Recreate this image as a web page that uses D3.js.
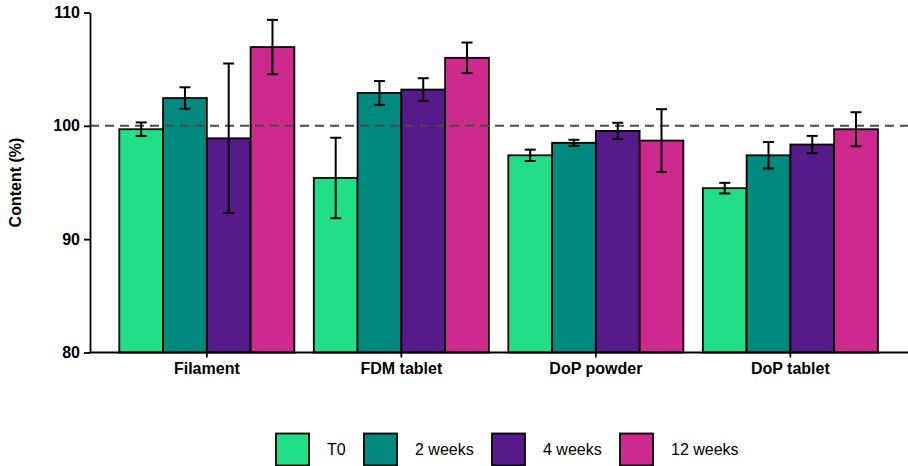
<!DOCTYPE html>
<html>
<head>
<meta charset="utf-8">
<script src="https://cdn.jsdelivr.net/npm/d3@7"></script>
<style>
  html, body { margin: 0; padding: 0; background: #fff; }
  svg { display: block; }
  text { font-family: "Liberation Sans", Arial, sans-serif; fill: #000; }
</style>
</head>
<body>
<svg id="chart" width="908" height="466"></svg>
<script>
// Samples and storage time points
const categories = ["Filament", "FDM tablet", "DoP powder", "DoP tablet"];
const seriesNames = ["T0", "2 weeks", "4 weeks", "12 weeks"];
const seriesColors = ["#22DE87", "#00897F", "#561A8A", "#CE2A8E"];

// Mean content (%) per time point, in category order
const meanT0   = [99.7, 95.4, 97.4, 94.5];
const mean2w   = [102.45, 102.9, 98.5, 97.4];
const mean4w   = [98.9, 103.2, 99.55, 98.35];
const mean12w  = [106.95, 106.0, 98.7, 99.7];

// Standard deviations
const sdT0  = [0.6, 3.55, 0.5, 0.47];
const sd2w  = [0.95, 1.05, 0.27, 1.17];
const sd4w  = [6.6, 1.0, 0.72, 0.76];
const sd12w = [2.4, 1.35, 2.77, 1.5];

const yTicks = [80, 90, 100, 110];
const reference = 100;

const means = [meanT0, mean2w, mean4w, mean12w];
const sds = [sdT0, sd2w, sd4w, sd12w];

const rows = [];
categories.forEach((c, ci) => {
  seriesNames.forEach((s, si) => {
    rows.push({ cat: c, series: s, si, mean: means[si][ci], sd: sds[si][ci] });
  });
});

const svg = d3.select("#chart");
const fontSize = 16;

const y = d3.scaleLinear().domain([80, 110]).range([352.5, 12.5]);
const x0 = d3.scaleBand().domain(categories).range([119.3, 877.9]).paddingInner(0.1).paddingOuter(0);
const x1 = d3.scaleBand().domain(seriesNames).range([0, x0.bandwidth()]).padding(0);

const axisLeftX = 90;

// Bars
const g = svg.append("g");
g.selectAll("rect.bar")
  .data(rows)
  .join("rect")
  .attr("class", "bar")
  .attr("x", d => x0(d.cat) + x1(d.series))
  .attr("y", d => y(d.mean))
  .attr("width", x1.bandwidth())
  .attr("height", d => y(80) - y(d.mean))
  .attr("fill", d => seriesColors[d.si])
  .attr("stroke", "#000")
  .attr("stroke-width", 1.8);

// Reference line at 100 %
svg.append("line")
  .attr("x1", axisLeftX).attr("x2", 908)
  .attr("y1", y(reference)).attr("y2", y(reference))
  .attr("stroke", "#4a4a4a")
  .attr("stroke-width", 2)
  .attr("stroke-dasharray", "9,6");

// Error bars
const capHalf = 5.5;
const eb = svg.append("g").attr("stroke", "#000").attr("stroke-width", 2);
rows.forEach(d => {
  const cx = x0(d.cat) + x1(d.series) + x1.bandwidth() / 2;
  const yt = y(d.mean + d.sd), yb = y(d.mean - d.sd);
  eb.append("line").attr("x1", cx).attr("x2", cx).attr("y1", yt).attr("y2", yb);
  eb.append("line").attr("x1", cx - capHalf).attr("x2", cx + capHalf).attr("y1", yt).attr("y2", yt);
  eb.append("line").attr("x1", cx - capHalf).attr("x2", cx + capHalf).attr("y1", yb).attr("y2", yb);
});

// Y axis
const yAxis = svg.append("g")
  .attr("transform", `translate(${axisLeftX},0)`)
  .call(d3.axisLeft(y).tickValues(yTicks).tickSize(6).tickPadding(4).tickSizeOuter(0));
yAxis.select(".domain").attr("stroke", "#000").attr("stroke-width", 1.8);
yAxis.selectAll(".tick line").attr("stroke", "#000").attr("stroke-width", 1.8);
yAxis.selectAll(".tick text")
  .attr("font-size", fontSize).attr("font-weight", "bold")
  .style("font-family", "Liberation Sans, Arial, sans-serif");

// X axis
const xAxis = svg.append("g")
  .attr("transform", `translate(0,${y(80)})`)
  .call(d3.axisBottom(x0).tickSize(5).tickPadding(5).tickSizeOuter(0));
xAxis.select(".domain").attr("d", `M${axisLeftX},0H908`).attr("stroke", "#000").attr("stroke-width", 1.8);
xAxis.selectAll(".tick line").attr("stroke", "#000").attr("stroke-width", 1.8);
xAxis.selectAll(".tick text")
  .attr("font-size", fontSize).attr("font-weight", "bold")
  .style("font-family", "Liberation Sans, Arial, sans-serif");

// Y axis title
svg.append("text")
  .attr("transform", `translate(21,${(y(80) + y(110)) / 2}) rotate(-90)`)
  .attr("text-anchor", "middle")
  .attr("font-size", fontSize)
  .attr("font-weight", "bold")
  .text("Content (%)");

// Legend
const legendX = [276, 364, 492, 620];
const legend = svg.append("g");
seriesNames.forEach((s, i) => {
  legend.append("rect")
    .attr("x", legendX[i]).attr("y", 433.5)
    .attr("width", 33).attr("height", 32)
    .attr("fill", seriesColors[i])
    .attr("stroke", "#000").attr("stroke-width", 1.8);
  legend.append("text")
    .attr("x", legendX[i] + 51).attr("y", 451)
    .attr("dominant-baseline", "middle")
    .attr("font-size", fontSize)
    .text(s);
});
</script>
</body>
</html>
